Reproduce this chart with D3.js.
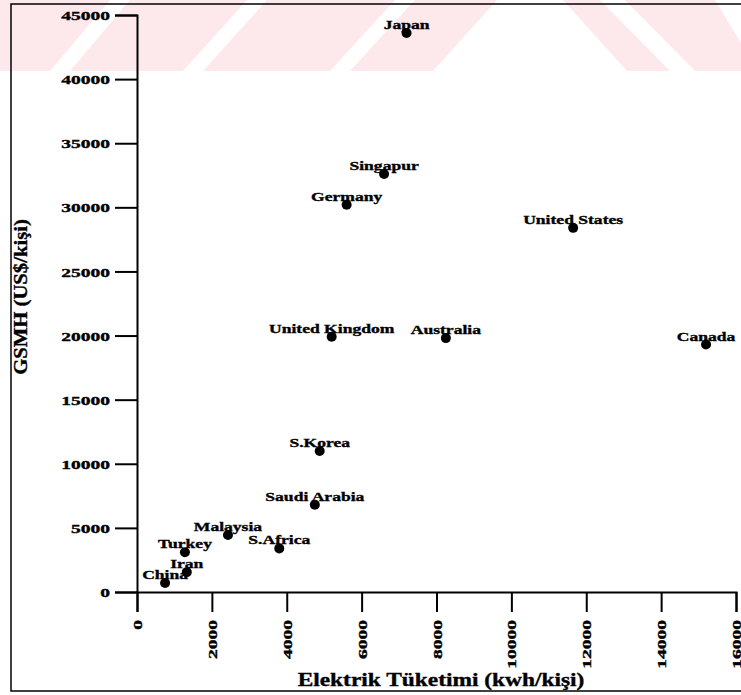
<!DOCTYPE html>
<html>
<head>
<meta charset="utf-8">
<script src="https://cdnjs.cloudflare.com/ajax/libs/d3/7.8.5/d3.min.js"></script>
<style>
  body { margin: 0; background: #fff; }
  text { font-family: "Liberation Serif", "Times New Roman", serif; font-weight: bold; fill: #000; stroke: #000; stroke-width: 0.35px; }
</style>
</head>
<body>
<svg></svg>
<script>
  // values
  let countries = ["Japan", "Singapur", "Germany", "United States", "United Kingdom", "Australia", "Canada",
                   "S.Korea", "Saudi Arabia", "Malaysia", "S.Africa", "Turkey", "Iran", "China"];
  let elektrik = [7200, 6600, 5600, 11650, 5200, 8250, 15200, 4880, 4750, 2430, 3800, 1280, 1330, 750];
  let gsmh = [43600, 32600, 30200, 28400, 19900, 19800, 19300, 11000, 6800, 4450, 3400, 3100, 1550, 700];
  let xTicks = [0, 2000, 4000, 6000, 8000, 10000, 12000, 14000, 16000];
  let yTicks = [0, 5000, 10000, 15000, 20000, 25000, 30000, 35000, 40000, 45000];

  let width = 741, height = 695;
  let margin = {top: 15, bottom: 103, left: 137, right: 5};
  let svg = d3.select("svg").attr("width", width).attr("height", height);

  // pink scan watermark band at the top
  let wm = svg.append("g");
  wm.append("rect").attr("x", 0).attr("y", 0).attr("width", width).attr("height", 71).attr("fill", "#fde9ec");
  let stripes = [
    [[50,71],[70,71],[130,0],[110,0]],
    [[183,71],[203,71],[267,0],[247,0]],
    [[330,71],[350,71],[415,0],[395,0]],
    [[433,71],[627,71],[563,0],[497,0]],
    [[670,71],[695,71],[625,0],[600,0]],
    [[741,43],[741,0],[715,0]]
  ];
  wm.selectAll("polygon").data(stripes).enter().append("polygon")
    .attr("points", d => d.map(p => p.join(",")).join(" "))
    .attr("fill", "#fff");

  // outer frame
  svg.append("rect").attr("x", 11).attr("y", 4).attr("width", 740).attr("height", 687)
    .attr("fill", "none").attr("stroke", "#000").attr("stroke-width", 1.5);

  let scales = {
    x: d3.scaleLinear().domain([0, 16000]).range([margin.left, width - margin.right]),
    y: d3.scaleLinear().domain([0, 45000]).range([height - margin.bottom, margin.top])
  };

  let axis = {
    x: d3.axisBottom(scales.x).tickValues(xTicks).tickFormat(d3.format("d")).tickSize(20).tickPadding(8),
    y: d3.axisLeft(scales.y).tickValues(yTicks).tickFormat(d3.format("d")).tickSize(22).tickPadding(5)
  };

  let yG = svg.append("g").attr("transform", "translate(" + margin.left + ",0)").call(axis.y);
  yG.selectAll("text")
    .attr("x", 0).attr("dy", "0.35em").style("font-size", "13px")
    .attr("transform", "translate(-27,0) scale(1.5,1)");

  let xG = svg.append("g").attr("transform", "translate(0," + (height - margin.bottom) + ")").call(axis.x);
  xG.selectAll("text")
    .attr("x", 0).attr("y", 0).attr("dy", "0.35em").style("font-size", "13px")
    .attr("text-anchor", "end")
    .attr("transform", "translate(0,28) rotate(-90) scale(1.5,1)");

  svg.selectAll(".domain, .tick line").attr("stroke", "#000").attr("stroke-width", 2);

  // points and their labels
  let points = countries.map((c, i) => ({name: c, x: elektrik[i], y: gsmh[i]}));

  svg.selectAll(".pt")
    .data(points)
    .enter()
    .append("circle")
    .attr("class", "pt")
    .attr("cx", d => scales.x(d.x))
    .attr("cy", d => scales.y(d.y))
    .attr("r", 5)
    .attr("fill", "#000");

  svg.selectAll(".lbl")
    .data(points)
    .enter()
    .append("text")
    .attr("class", "lbl")
    .attr("text-anchor", "middle")
    .style("font-size", "13px")
    .attr("transform", d => "translate(" + scales.x(d.x) + "," + (scales.y(d.y) - 4) + ") scale(1.35,1)")
    .text(d => d.name);

  // axis titles
  svg.append("text")
    .attr("text-anchor", "middle")
    .style("font-size", "18px")
    .attr("transform", "translate(441,686) scale(1.3,1)")
    .text("Elektrik Tüketimi (kwh/kişi)");

  svg.append("text")
    .attr("text-anchor", "middle")
    .style("font-size", "18px")
    .attr("transform", "translate(27,297) rotate(-90) scale(1.15,1)")
    .text("GSMH (US$/kişi)");
</script>
</body>
</html>
